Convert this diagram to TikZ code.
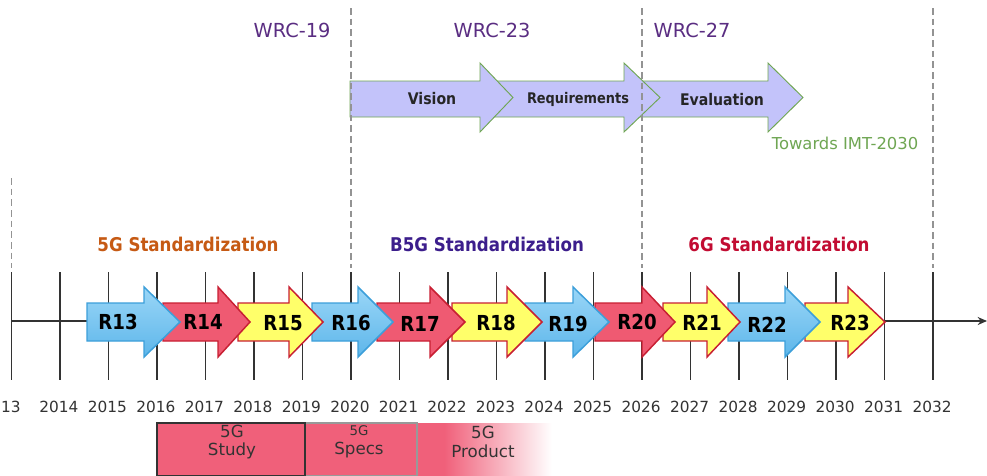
\documentclass[tikz,border=0pt]{standalone}
\usepackage{fontspec}
\setmainfont{DejaVu Sans}
\newfontfamily\condfont[FakeStretch=0.88]{DejaVu Sans}
\usetikzlibrary{arrows.meta}

\definecolor{wrcpurple}{HTML}{5A2D82}
\definecolor{lavender}{HTML}{C3C3FA}
\definecolor{leafgreen}{HTML}{6FA653}
\definecolor{skyA}{HTML}{9AD6F7}
\definecolor{skyB}{HTML}{5DB6EA}
\definecolor{skyline}{HTML}{3C9FDA}
\definecolor{rose}{HTML}{EF5A72}
\definecolor{roseline}{HTML}{C81F33}
\definecolor{lemon}{HTML}{FFFF6A}
\definecolor{fiveG}{HTML}{C65A14}
\definecolor{bfiveG}{HTML}{3C1E8C}
\definecolor{sixG}{HTML}{C20C32}
\definecolor{phasepink}{HTML}{F0607A}
\definecolor{inkgray}{HTML}{333333}

\tikzset{
  relblue/.style={top color=skyA, bottom color=skyB, draw=skyline, line width=1.1pt, line join=miter},
  relred/.style={fill=rose, draw=roseline, line width=1.1pt, line join=miter},
  relyellow/.style={fill=lemon, draw=roseline, line width=1.1pt, line join=miter},
  phasearrow/.style={fill=lavender, draw=leafgreen, line width=0.7pt, line join=miter},
  rlabel/.style={font=\condfont\bfseries\fontsize{15.5}{16}\selectfont, text=black, inner sep=0pt},
  plabel/.style={font=\condfont\bfseries\fontsize{12}{12}\selectfont, text=black!85, inner sep=0pt},
  wrclabel/.style={font=\fontsize{14.5}{15}\selectfont, text=wrcpurple, inner sep=0pt},
  stdlabel/.style={font=\condfont\bfseries\fontsize{14.2}{15}\selectfont, inner sep=0pt},
  yearlabel/.style={font=\fontsize{11.5}{12}\selectfont, text=inkgray, inner sep=0pt},
  guide/.style={draw=gray!85, line width=1.3pt, dash pattern=on 5pt off 3pt},
  yeartick/.style={draw=inkgray, line width=1.4pt},
  axisline/.style={draw=inkgray, line width=1.8pt},
  phasebox/.style={fill=phasepink, line width=1pt},
  boxtext/.style={font=\fontsize{12.5}{14}\selectfont, text=inkgray, align=center, inner sep=0pt}
}

% release arrow: #1 body start, #2 head start, #3 tip, #4 style
\newcommand\relarrow[4]{%
  \path[#4] (#1,303) -- (#2,303) -- (#2,287) -- (#3,322) -- (#2,357) -- (#2,341) -- (#1,341) -- cycle;}
% ITU phase arrow: #1 body start, #2 head start, #3 tip
\newcommand\itubarrow[3]{%
  \path[phasearrow] (#1,81) -- (#2,81) -- (#2,63) -- (#3,97.5) -- (#2,132) -- (#2,117) -- (#1,117) -- cycle;}

\begin{document}
\begin{tikzpicture}[x=0.75pt, y=-0.75pt]
\useasboundingbox (0,0) rectangle (987,475);
\clip (0,0) rectangle (987,475);
\fill[white] (0,0) rectangle (987,475);

% ITU-R phases toward IMT-2030
\itubarrow{640}{768}{803}
\itubarrow{495}{624}{660}
\itubarrow{350}{480}{513}
\node[plabel] (vision) at (432,99) {Vision};
\node[plabel, font=\condfont\bfseries\fontsize{11}{11}\selectfont] (requirements) at (578,99) {Requirements};
\node[plabel] (evaluation) at (722,100) {Evaluation};
\node[font=\fontsize{12.3}{13}\selectfont, text=leafgreen, inner sep=0pt] (imt) at (845,143) {Towards IMT-2030};

% WRC milestones
\node[wrclabel] (wrc19) at (292,30) {WRC-19};
\node[wrclabel] (wrc23) at (492,30) {WRC-23};
\node[wrclabel] (wrc27) at (692,30) {WRC-27};

% dashed era separators
\foreach \gx/\gtop in {11.5/178, 351/8, 642/8, 933/8}
  \draw[guide] (\gx,\gtop) -- (\gx,268);

% standardization eras
\node[stdlabel, text=fiveG] (std5g) at (188,244) {5G Standardization};
\node[stdlabel, text=bfiveG] (stdb5g) at (487,244) {B5G Standardization};
\node[stdlabel, text=sixG] (std6g) at (779,244) {6G Standardization};

% time axis with yearly ticks
\draw[yeartick] (11.5,272) -- (11.5,380);
\node[yearlabel] (y2013) at (11,407) {13};
\foreach \yr in {2014,...,2032} {
  \pgfmathsetmacro\xx{60+(\yr-2014)*48.5}
  \draw[yeartick] (\xx,272) -- (\xx,380);
  \node[yearlabel] (y\yr) at (\xx-1,407) {\yr};
}
\coordinate (axstart) at (11.5,321);
\coordinate (axend) at (987,321);
\draw[axisline, -{Stealth[length=7pt,width=6pt]}] (axstart) -- (axend);

% 3GPP releases (later ones underneath)
\relarrow{805}{848}{885}{relyellow}
\relarrow{728}{785}{820}{relblue}
\relarrow{663}{707}{740}{relyellow}
\relarrow{595}{642}{675}{relred}
\relarrow{525}{573}{609}{relblue}
\relarrow{452}{507}{542}{relyellow}
\relarrow{377}{430}{465}{relred}
\relarrow{312}{358}{393}{relblue}
\relarrow{238}{289}{323}{relyellow}
\relarrow{163}{218}{250}{relred}
\relarrow{87}{144}{180}{relblue}

\node[rlabel] (r13) at (118,322) {R13};
\node[rlabel] (r14) at (203,322) {R14};
\node[rlabel] (r15) at (283,323) {R15};
\node[rlabel] (r16) at (351,323) {R16};
\node[rlabel] (r17) at (420,324) {R17};
\node[rlabel] (r18) at (496,323) {R18};
\node[rlabel] (r19) at (568,324) {R19};
\node[rlabel] (r20) at (637,322) {R20};
\node[rlabel] (r21) at (702,323) {R21};
\node[rlabel] (r22) at (767,325) {R22};
\node[rlabel] (r23) at (850,323) {R23};

% 5G phases
\fill[phasepink] (417,423) rectangle (445,476);
\shade[left color=phasepink, right color=white] (444,423) rectangle (552,476);
\path[phasebox, draw=gray!80] (305,423) rectangle (417,476);
\path[phasebox, draw=inkgray] (157,423) rectangle (305,476);
\node[boxtext] (study) at (232,442) {5G\\Study};
\node[boxtext] (specs) at (359,442) {{\fontsize{10}{12}\selectfont 5G}\\Specs};
\node[boxtext] (product) at (483,442) {5G\\Product};
\end{tikzpicture}
\end{document}
